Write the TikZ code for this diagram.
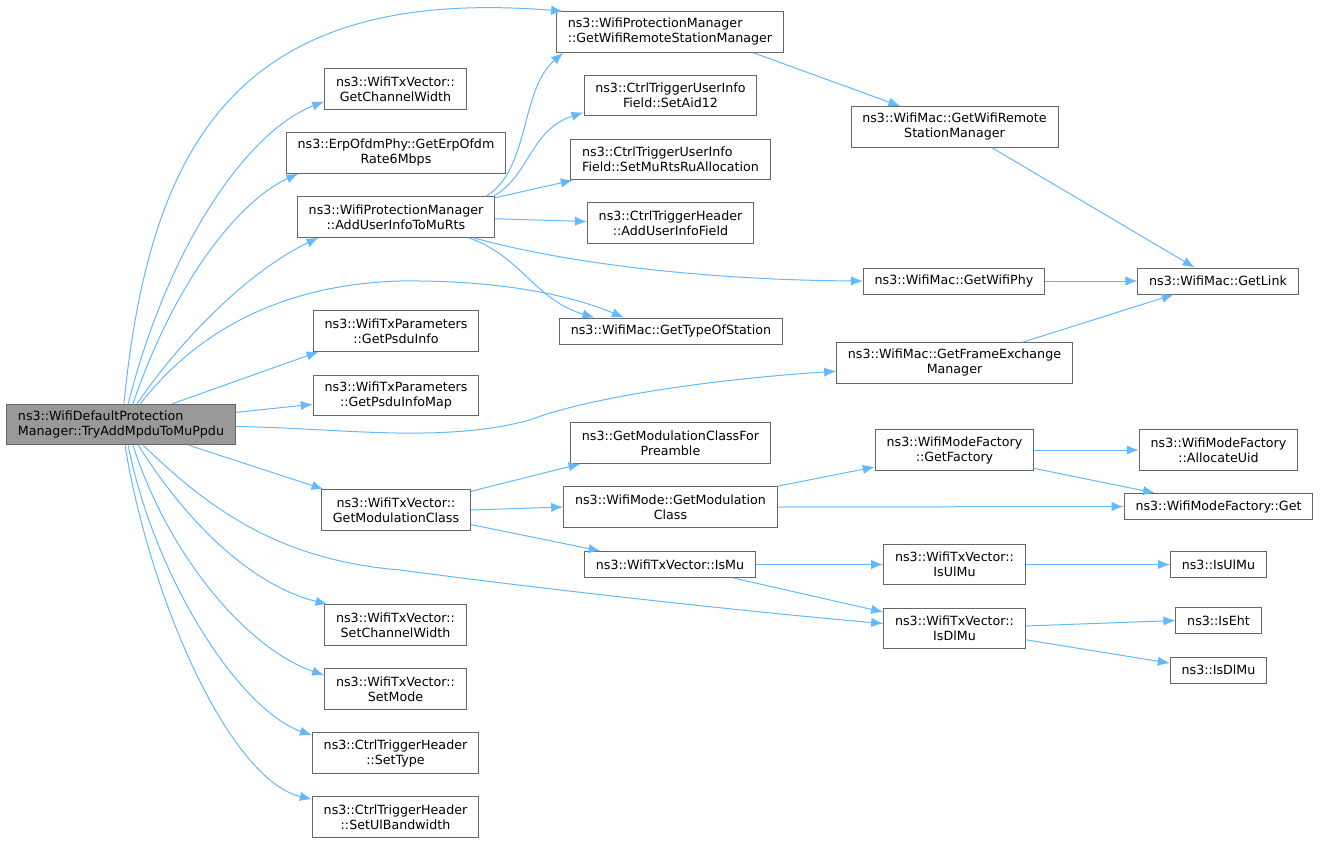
\documentclass[tikz,border=0pt]{standalone}
\usepackage{fontspec}
\setmainfont{DejaVu Sans}
\usetikzlibrary{arrows.meta}
\definecolor{edgeblue}{HTML}{63B8FF}
\definecolor{boxgray}{HTML}{666666}
\definecolor{mainfill}{HTML}{999999}
\tikzstyle{func} = [rectangle, draw=boxgray, fill=white, line width=0.75pt, inner xsep=8.5pt, inner ysep=2pt, minimum height=19.5pt, align=center, font=\fontsize{9.5}{11.25}\selectfont]
\tikzstyle{func2} = [func, minimum height=30.4pt]
\tikzstyle{current} = [func2, fill=mainfill, align=left]
\tikzstyle{arrow} = [draw=edgeblue, line width=0.75pt, -{Latex[length=9pt,width=7pt]}]

\begin{document}
\begin{tikzpicture}[x=0.75pt, y=-0.75pt]
        \useasboundingbox (0,0) rectangle (1320,842);

        \node (main) [current] at (121,424.5) {ns3::WifiDefaultProtection\\Manager::TryAddMpduToMuPpdu};
        \node (chw) [func2] at (395.5,89) {ns3::WifiTxVector::\\GetChannelWidth};
        \node (erp) [func2] at (396,153) {ns3::ErpOfdmPhy::GetErpOfdm\\Rate6Mbps};
        \node (addui) [func2] at (396,217) {ns3::WifiProtectionManager\\::AddUserInfoToMuRts};
        \node (psdu) [func2] at (396,331) {ns3::WifiTxParameters\\::GetPsduInfo};
        \node (psdumap) [func2] at (396,395.5) {ns3::WifiTxParameters\\::GetPsduInfoMap};
        \node (modtx) [func2] at (396,510) {ns3::WifiTxVector::\\GetModulationClass};
        \node (setchw) [func2] at (395.5,625) {ns3::WifiTxVector::\\SetChannelWidth};
        \node (setmode) [func2] at (395.5,689) {ns3::WifiTxVector::\\SetMode};
        \node (settype) [func2] at (395.5,753) {ns3::CtrlTriggerHeader\\::SetType};
        \node (setulbw) [func2] at (395.5,817) {ns3::CtrlTriggerHeader\\::SetUlBandwidth};

        \node (pmrsm) [func2, align=left] at (670,32) {ns3::WifiProtectionManager\\::GetWifiRemoteStationManager};
        \node (aid) [func2] at (670.5,95.5) {ns3::CtrlTriggerUserInfo\\Field::SetAid12};
        \node (murts) [func2, align=left] at (670.5,159.5) {ns3::CtrlTriggerUserInfo\\Field::SetMuRtsRuAllocation};
        \node (adduif) [func2] at (670.5,223) {ns3::CtrlTriggerHeader\\::AddUserInfoField};
        \node (typesta) [func] at (671,331) {ns3::WifiMac::GetTypeOfStation};
        \node (preamble) [func2] at (670.5,443) {ns3::GetModulationClassFor\\Preamble};
        \node (modmode) [func2] at (670.5,507) {ns3::WifiMode::GetModulation\\Class};
        \node (ismu) [func] at (670,564.5) {ns3::WifiTxVector::IsMu};

        \node (macrsm) [func2] at (954.5,127) {ns3::WifiMac::GetWifiRemote\\StationManager};
        \node (phy) [func] at (954,281) {ns3::WifiMac::GetWifiPhy};
        \node (fem) [func2] at (954.5,363) {ns3::WifiMac::GetFrameExchange\\Manager};
        \node (factory) [func2] at (954.5,450) {ns3::WifiModeFactory\\::GetFactory};
        \node (ulmutx) [func2] at (954.5,564.5) {ns3::WifiTxVector::\\IsUlMu};
        \node (dlmutx) [func2] at (954.5,628.5) {ns3::WifiTxVector::\\IsDlMu};

        \node (link) [func] at (1218,281) {ns3::WifiMac::GetLink};
        \node (alloc) [func2] at (1218.5,450) {ns3::WifiModeFactory\\::AllocateUid};
        \node (get) [func] at (1218.5,506.5) {ns3::WifiModeFactory::Get};
        \node (isulmu) [func] at (1218.5,564.5) {ns3::IsUlMu};
        \node (iseht) [func] at (1218.5,620.5) {ns3::IsEht};
        \node (isdlmu) [func] at (1218.5,670) {ns3::IsDlMu};

        \draw [arrow] (main.82) .. controls (150,140) and (240,-15) .. (pmrsm.169);
        \draw [arrow] (main.71) .. controls (170,240) and (250,130) .. (chw.190);
        \draw [arrow] (main.60) .. controls (175,280) and (240,200) .. (erp.192);
        \draw [arrow] (main.52) .. controls (180,340) and (250,270) .. (addui.195);
        \draw [arrow] (main.47) .. controls (190,340) and (270,285) .. (400,281) .. controls (500,280) and (570,295) .. (typesta.164);
        \draw [arrow] (main.22) -- (psdu.195);
        \draw [arrow] (main.6) -- (psdumap.186);
        \draw [arrow] (main.-1) .. controls (340,428) and (440,444) .. (530,420) .. controls (580,400) and (700,380) .. (fem.184);
        \draw [arrow] (main.-17) -- (modtx.164);
        \draw [arrow] (main.-43) .. controls (210,510) and (280,560) .. (400,570) .. controls (550,590) and (750,612) .. (dlmutx.176);
        \draw [arrow] (main.-50) .. controls (185,520) and (250,585) .. (setchw.163);
        \draw [arrow] (main.-60) .. controls (170,560) and (250,650) .. (setmode.169);
        \draw [arrow] (main.-71) .. controls (155,580) and (240,710) .. (settype.168);
        \draw [arrow] (main.-79) .. controls (150,600) and (230,780) .. (setulbw.168);

        \draw [arrow] (addui.13) .. controls (530,170) and (520,90) .. (pmrsm.191);
        \draw [arrow] (addui.12) .. controls (530,175) and (530,130) .. (aid.191);
        \draw [arrow] (addui.11) -- (murts.192);
        \draw [arrow] (addui.-1) -- (adduif.179);
        \draw [arrow] (addui.-15) .. controls (560,262) and (700,280) .. (phy.west);
        \draw [arrow] (addui.-16) .. controls (520,255) and (535,300) .. (typesta.170);

        \draw [arrow] (pmrsm.-14) -- (macrsm.159);
        \draw [arrow] (macrsm.-29) -- (link.150);
        \draw [arrow] (phy.east) -- (link.west);
        \draw [arrow] (fem.17) -- (link.197);

        \draw [arrow] (modtx.14) -- (preamble.193);
        \draw [arrow] (modtx.east) -- (modmode.west);
        \draw [arrow] (modtx.-11) -- (ismu.169);
        \draw [arrow] (modmode.11) -- (factory.192);
        \draw [arrow] (modmode.east) -- (get.west);
        \draw [arrow] (factory.east) -- (alloc.west);
        \draw [arrow] (factory.-13) -- (get.168);
        \draw [arrow] (ismu.east) -- (ulmutx.west);
        \draw [arrow] (ismu.-12) -- (dlmutx.167);
        \draw [arrow] (ulmutx.east) -- (isulmu.west);
        \draw [arrow] (dlmutx.2) -- (iseht.west);
        \draw [arrow] (dlmutx.-9) -- (isdlmu.172);

    \end{tikzpicture}
\end{document}
